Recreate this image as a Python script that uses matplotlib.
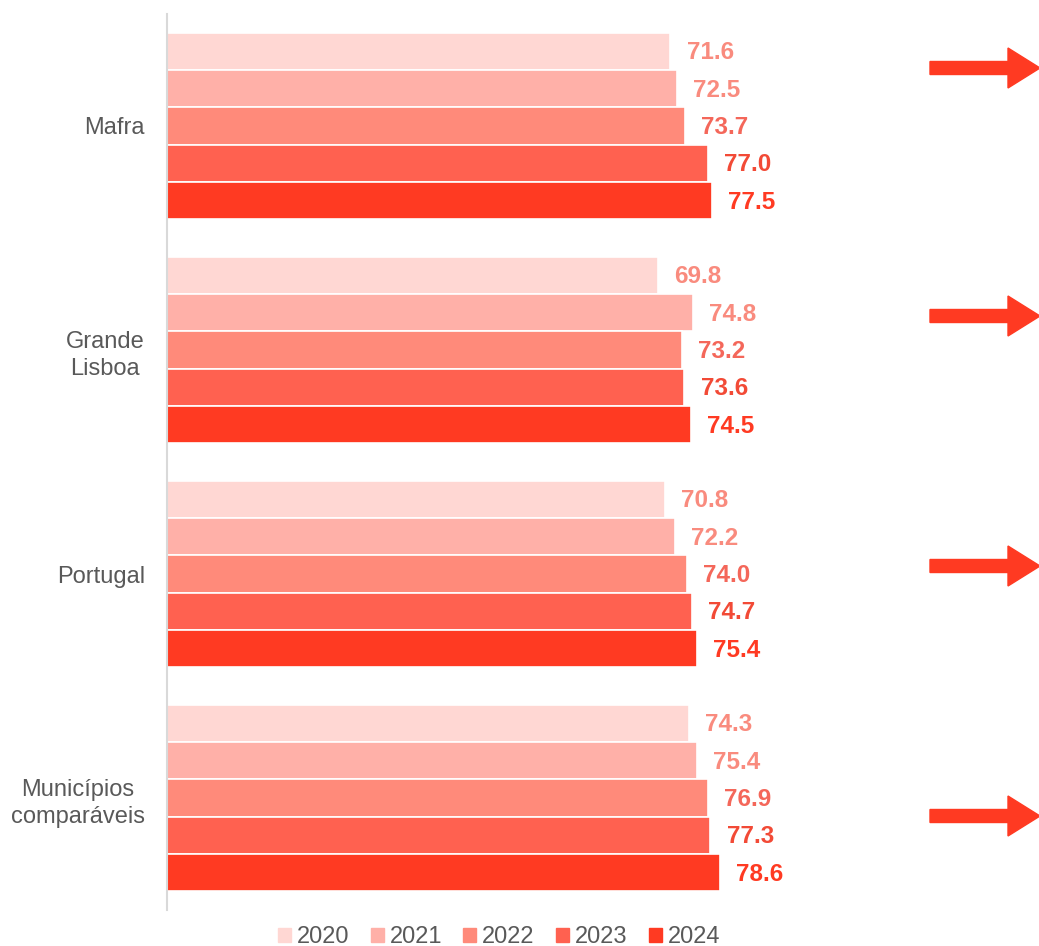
import numpy as np
import matplotlib.pyplot as plt
from matplotlib.patches import FancyArrow, Patch

plt.rcParams['font.family'] = ['Liberation Sans', 'DejaVu Sans']

# data
categories = ['Mafra', 'Grande\nLisboa', 'Portugal', 'Municípios\ncomparáveis']
years = ['2020', '2021', '2022', '2023', '2024']
v2020 = [71.6, 69.8, 70.8, 74.3]
v2021 = [72.5, 74.8, 72.2, 75.4]
v2022 = [73.7, 73.2, 74.0, 76.9]
v2023 = [77.0, 73.6, 74.7, 77.3]
v2024 = [77.5, 74.5, 75.4, 78.6]
series = [v2020, v2021, v2022, v2023, v2024]

bar_cols = ['#FFD7D3', '#FFB0A8', '#FF8A7A', '#FF6150', '#FF3A22']
lab_cols = ['#F98B7E', '#F98B7E', '#F4675A', '#F24A36', '#FF3A22']

W, H = 1039, 946
fig = plt.figure(figsize=(W/100, H/100), dpi=100)
ax = fig.add_axes([167/W, (H-910)/H, 1-167/W, 896/H])

y = np.arange(len(categories))
step = 0.1667
for k, vals in enumerate(series):
    pos = y + (k-2)*step
    ax.barh(pos, vals, height=step, color=bar_cols[k], edgecolor='white',
            linewidth=1.2, label=years[k])
    for p, v in zip(pos, vals):
        ax.text(v + 2.3, p + 0.006, f'{v:.1f}', va='center', ha='left',
                fontsize=17.5, fontweight='bold', color=lab_cols[k])

ax.set_ylim(3.5, -0.5)
ax.set_xlim(0, (W-167)/7.03)
ax.set_yticks(y)
ax.set_yticklabels(categories, fontsize=17, color='#595959', linespacing=1.35)
for lbl in ax.get_yticklabels():
    lbl.set_multialignment('center')
ax.tick_params(axis='y', length=0, pad=16)
ax.set_xticks([])
for s in ['top', 'right', 'bottom']:
    ax.spines[s].set_visible(False)
ax.spines['left'].set_color('#D9D9D9')
ax.spines['left'].set_linewidth(1.5)

# arrows on the right
for ay in [68, 316, 566, 816]:
    arr = FancyArrow(930/100, (H-ay)/100, 1.10, 0, width=0.13,
                     head_width=0.40, head_length=0.32,
                     length_includes_head=True, color='#FF3A22',
                     transform=fig.dpi_scale_trans)
    fig.patches.append(arr)

handles = [Patch(color=c, label=yr) for c, yr in zip(bar_cols, years)]
fig.legend(handles=handles, loc='center', bbox_to_anchor=(499/W, (H-937)/H),
           ncol=5, frameon=False, fontsize=17, handlelength=0.55,
           handleheight=0.55, handletextpad=0.25, columnspacing=0.9,
           labelcolor='#595959')

fig.savefig('out.png', dpi=100)
